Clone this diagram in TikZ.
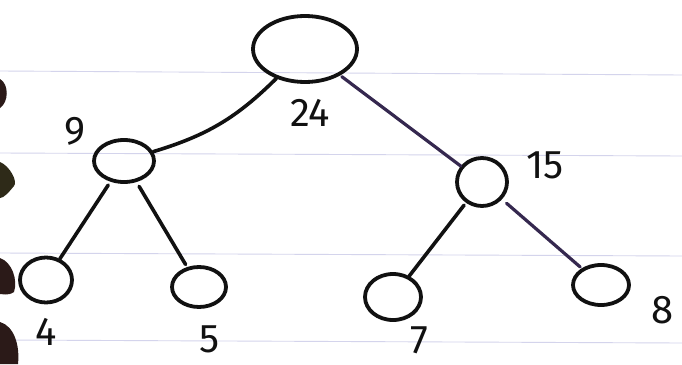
\documentclass[tikz,border=0pt]{standalone}
\usepackage{fontspec}
\setmainfont{Fira Sans}
\usetikzlibrary{shapes.geometric}
\definecolor{ink}{HTML}{111111}
\definecolor{violetink}{HTML}{35284F}
\definecolor{ruling}{HTML}{D4D4EC}
\definecolor{ring}{HTML}{2B1A18}
\definecolor{ringolive}{HTML}{2E2A18}
\tikzset{
  vertex/.style={ellipse, draw=ink, line width=3.8pt, inner sep=0pt},
  branch/.style={draw=ink, line width=3.6pt, line cap=round},
  vbranch/.style={draw=violetink, line width=3.2pt, line cap=round},
  weight/.style={text=ink, font=\fontsize{40}{40}\selectfont, inner sep=0pt}
}
\begin{document}
\begin{tikzpicture}[x=1pt, y=-1pt]
  \useasboundingbox (0,0) rectangle (682,364);
  \fill[white] (0,0) rectangle (682,364);
  % ruled notebook lines
  \foreach \yy/\dy in {71/4, 153/3, 253/3, 340/3}
    \draw[ruling, line width=0.9pt] (0,\yy) -- (682,\yy+\dy);
  % binder ring holes on the left margin
  \fill[ring] (0,79) .. controls (9,84) and (9,102) .. (0,108) -- cycle;
  \fill[ringolive] (0,162) .. controls (10,166) and (18,182) .. (14,186) .. controls (9,192) and (4,198) .. (0,198) -- cycle;
  \fill[ring] (0,258) .. controls (12,262) and (18,280) .. (14,292) .. controls (8,296) and (3,294) .. (0,294) -- cycle;
  \fill[ring] (0,322) .. controls (14,326) and (20,345) .. (18,364) -- (0,364) -- cycle;

  % tree vertices
  \node[vertex, minimum width=104pt, minimum height=66pt] (root) at (305,49) {};
  \node[vertex, minimum width=60pt, minimum height=42pt] (n9) at (124,161) {};
  \node[vertex, minimum width=50pt, minimum height=48pt] (n15) at (482,182) {};
  \node[vertex, minimum width=52pt, minimum height=45pt] (n4) at (46,280) {};
  \node[vertex, minimum width=54pt, minimum height=40pt] (n5) at (199,287) {};
  \node[vertex, minimum width=56pt, minimum height=46pt] (n7) at (393,297) {};
  \node[vertex, minimum width=56pt, minimum height=40pt] (n8) at (601,285) {};

  % weights
  \node[weight] (w24) at (310,113) {24};
  \node[weight] (w9) at (75,131) {9};
  \node[weight] (w15) at (545,165) {15};
  \node[weight] (w4) at (46,332) {4};
  \node[weight] (w5) at (210,339) {5};
  \node[weight] (w7) at (419,340) {7};
  \node[weight] (w8) at (663,310) {8};

  % branches
  \draw[branch] (root) to[bend left=14] (n9);
  \draw[vbranch, shorten <=2pt] (root) -- (n15);
  \draw[branch, shorten <=4pt] (n9) -- (n4);
  \draw[branch, shorten <=5pt, shorten >=3pt] (n9) -- (n5);
  \draw[branch, shorten <=3pt] (n15) -- (n7);
  \draw[vbranch, shorten <=6pt, shorten >=2pt] (n15) -- (n8);
\end{tikzpicture}
\end{document}
